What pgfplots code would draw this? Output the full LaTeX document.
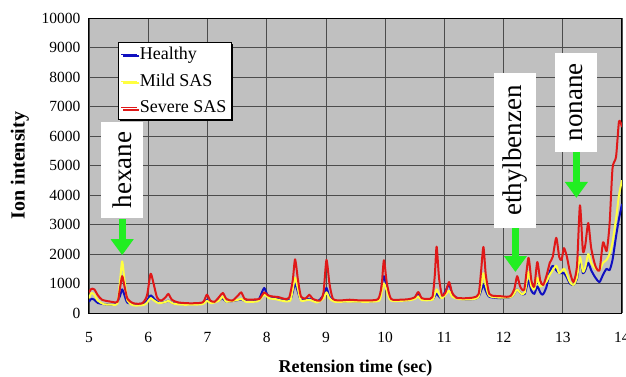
\documentclass[border=0pt]{standalone}
\usepackage{pgfplots}
\pgfplotsset{compat=1.18}
\usepackage{pgfplotstable}
\usepackage{fontspec}
\setmainfont{Liberation Serif}
\usetikzlibrary{arrows.meta,shadows}
\definecolor{cblue}{HTML}{1010C0}
\definecolor{cyel}{HTML}{FFFF40}
\definecolor{cred}{HTML}{E01818}
\definecolor{cgreen}{HTML}{22EE22}
\definecolor{cbg}{HTML}{C0C0C0}

\pgfplotstableread{
x y
5.00 700
5.04 820
5.09 800
5.15 600
5.22 450
5.35 390
5.48 380
5.52 800
5.56 1250
5.60 900
5.65 480
5.75 330
5.90 330
5.98 600
6.04 1330
6.09 1000
6.15 520
6.22 420
6.30 550
6.34 650
6.40 450
6.50 360
6.70 330
6.92 360
6.99 620
7.05 420
7.12 380
7.20 550
7.26 680
7.32 480
7.42 420
7.52 600
7.57 700
7.63 480
7.72 450
7.80 460
7.88 480
7.96 700
8.02 600
8.10 560
8.20 540
8.30 480
8.38 520
8.44 1100
8.48 1820
8.53 1100
8.58 550
8.66 500
8.72 620
8.78 480
8.90 420
8.96 700
9.01 1800
9.06 1000
9.12 480
9.25 430
9.40 450
9.55 430
9.70 430
9.88 470
9.94 900
9.98 1790
10.03 1000
10.10 480
10.25 450
10.40 470
10.50 530
10.56 710
10.62 500
10.72 480
10.80 550
10.84 1300
10.87 2250
10.91 1200
10.96 600
11.02 700
11.08 1050
11.13 700
11.20 520
11.35 500
11.50 530
11.58 650
11.62 1400
11.66 2240
11.70 1300
11.76 650
11.85 580
11.95 570
12.05 550
12.12 580
12.18 800
12.23 1250
12.28 900
12.35 800
12.42 1870
12.47 1100
12.52 900
12.57 1730
12.62 1100
12.67 950
12.73 1300
12.78 1700
12.83 1900
12.89 2550
12.94 1900
12.98 1800
13.02 2200
13.07 1900
13.12 1400
13.18 1050
13.24 1600
13.29 3650
13.34 2100
13.38 2300
13.43 3050
13.48 2200
13.55 1600
13.62 1450
13.68 2400
13.74 2100
13.79 3000
13.84 4900
13.90 5300
13.95 6500
14.00 6300
}\severe

\pgfplotstableread{
x y
5.00 500
5.04 680
5.09 620
5.15 420
5.25 300
5.40 280
5.48 320
5.52 1000
5.56 1750
5.60 1100
5.65 420
5.75 260
5.92 270
5.98 350
6.04 500
6.10 420
6.18 330
6.30 380
6.34 420
6.42 320
6.60 280
6.92 300
6.99 420
7.06 330
7.20 420
7.26 560
7.32 380
7.52 450
7.57 480
7.65 380
7.85 400
7.96 620
8.04 500
8.15 470
8.30 400
8.40 420
8.44 800
8.48 1200
8.53 800
8.58 420
8.72 450
8.85 360
8.96 500
9.01 700
9.06 500
9.15 380
9.40 390
9.70 380
9.90 420
9.94 700
9.98 1000
10.03 750
10.10 420
10.40 430
10.50 480
10.56 560
10.62 440
10.80 450
10.84 650
10.87 800
10.91 650
10.96 500
11.08 750
11.13 560
11.25 470
11.50 470
11.58 560
11.62 900
11.66 1350
11.70 950
11.76 580
11.95 520
12.12 540
12.18 650
12.23 800
12.30 650
12.36 700
12.42 1400
12.47 900
12.52 800
12.57 1200
12.62 900
12.72 1050
12.78 1300
12.83 1450
12.89 1600
12.94 1350
13.02 1500
13.07 1300
13.12 1050
13.18 950
13.24 1200
13.29 1900
13.34 1400
13.38 1550
13.43 2000
13.48 1700
13.55 1500
13.62 1450
13.68 1700
13.74 1800
13.79 2000
13.84 2400
13.90 3200
13.95 4000
14.00 4500
}\mild

\pgfplotstableread{
x y
5.00 380
5.04 480
5.09 450
5.15 340
5.30 290
5.45 300
5.52 560
5.56 800
5.60 600
5.65 350
5.80 300
5.95 350
6.04 600
6.10 480
6.18 350
6.30 380
6.34 420
6.42 330
6.60 300
6.92 320
6.99 450
7.06 350
7.20 430
7.26 500
7.32 380
7.52 440
7.57 460
7.65 400
7.85 420
7.92 700
7.96 850
8.02 600
8.15 500
8.30 420
8.40 450
8.44 700
8.48 1000
8.53 700
8.58 450
8.72 480
8.85 380
8.96 600
9.01 850
9.06 550
9.15 400
9.40 400
9.70 390
9.90 450
9.94 900
9.98 1250
10.03 850
10.10 450
10.40 440
10.50 520
10.56 680
10.62 470
10.80 460
10.84 580
10.87 650
10.91 560
10.96 520
11.08 960
11.13 650
11.25 480
11.50 470
11.58 550
11.62 750
11.66 950
11.70 750
11.76 550
11.95 500
12.12 540
12.18 650
12.23 800
12.30 650
12.36 650
12.42 1100
12.47 750
12.52 650
12.57 900
12.62 700
12.66 620
12.72 850
12.78 1400
12.83 1600
12.89 1450
12.94 1350
13.02 1350
13.07 1200
13.12 1000
13.18 950
13.24 1150
13.29 1800
13.34 1350
13.38 1450
13.43 1700
13.48 1450
13.55 1200
13.62 1050
13.68 1300
13.74 1500
13.79 1450
13.84 1800
13.90 2600
13.95 3200
14.00 3700
}\healthy

\begin{document}
\begin{tikzpicture}
\begin{axis}[
  scale only axis, width=533pt, height=295pt,
  xmin=5, xmax=14, ymin=0, ymax=10000,
  xtick={5,...,14}, ytick={0,1000,...,10000},
  scaled y ticks=false,
  /pgf/number format/1000 sep={},
  /pgf/number format/assume math mode=true,
  ticklabel style={font=\rmfamily\fontsize{15.5}{18}\selectfont},
  xticklabel style={yshift=-16pt},
  yticklabel style={xshift=-5pt},
  tick style={draw=none},
  grid=major,
  major grid style={draw=black!70, line width=0.7pt},
  axis background/.style={fill=cbg},
  axis line style={line width=1pt},
  xlabel={Retension time (sec)},
  ylabel={Ion intensity},
  xlabel style={font=\rmfamily\fontsize{18}{20}\selectfont\bfseries, yshift=-10pt},
  ylabel style={font=\rmfamily\fontsize{20}{22}\selectfont\bfseries, yshift=6pt},
  legend style={at={(0.054,0.919)}, anchor=north west, draw=black, fill=white,
    font=\rmfamily\fontsize{18}{20}\selectfont, row sep=9pt, inner sep=3pt,
    drop shadow={shadow xshift=2pt, shadow yshift=-2pt, fill=black, opacity=1}},
  legend cell align=left,
  legend image code/.code={\draw[#1, sharp plot, line width=1pt] (0pt,0pt) -- (16pt,0pt);},
  every axis plot/.append style={line width=2pt, line join=round, smooth, tension=0.4},
]
\addplot[cblue] table[x=x,y=y] {\healthy};
\addplot[cyel] table[x=x,y=y] {\mild};
\addplot[cred] table[x=x,y=y] {\severe};
\legend{Healthy, Mild SAS, Severe SAS}

\node[fill=white, rotate=90, minimum width=96pt, minimum height=42pt, inner sep=0pt,
  font=\rmfamily\fontsize{27}{30}\selectfont] at (axis cs:5.56,4850) {hexane};
\draw[cgreen, line width=7pt, -{Triangle[width=22pt,length=16pt]}]
  (axis cs:5.56,3180) -- (axis cs:5.56,1960);

\node[fill=white, rotate=90, minimum width=155pt, minimum height=42pt, inner sep=0pt,
  font=\rmfamily\fontsize{27}{30}\selectfont] at (axis cs:12.20,5510) {ethylbenzen};
\draw[cgreen, line width=7pt, -{Triangle[width=22pt,length=16pt]}]
  (axis cs:12.20,2880) -- (axis cs:12.20,1390);

\node[fill=white, rotate=90, minimum width=99pt, minimum height=42pt, inner sep=0pt,
  font=\rmfamily\fontsize{27}{30}\selectfont] at (axis cs:13.23,7140) {nonane};
\draw[cgreen, line width=7pt, -{Triangle[width=22pt,length=16pt]}]
  (axis cs:13.23,5460) -- (axis cs:13.23,3900);
\end{axis}
\pgfresetboundingbox
\path (-89pt,-63pt) rectangle (537pt,313pt);
\end{tikzpicture}
\end{document}
